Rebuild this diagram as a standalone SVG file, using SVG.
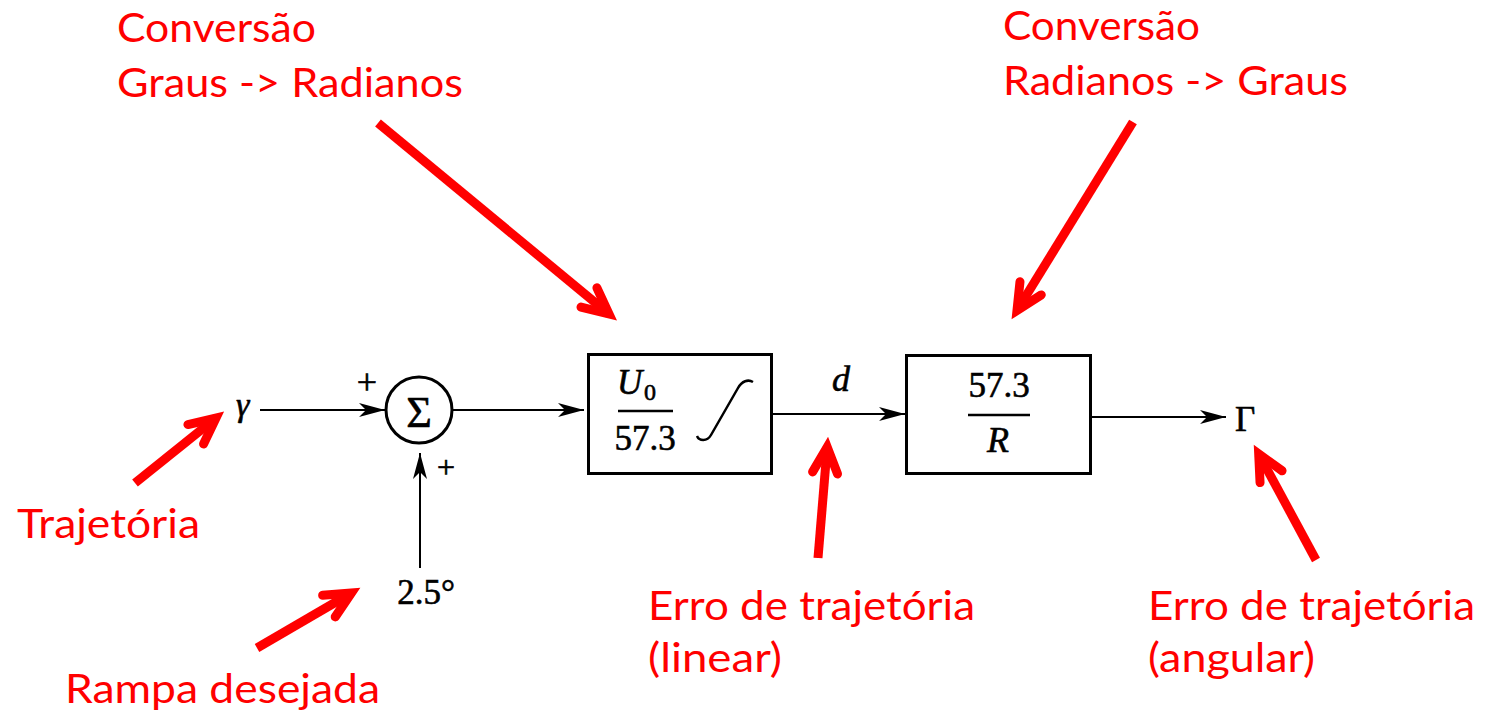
<svg xmlns="http://www.w3.org/2000/svg" width="1488" height="717" viewBox="0 0 1488 717">
<style>
.lbl{font-family:Lato,"Open Sans","Liberation Sans",sans-serif;font-size:41px;fill:#ff0000}
.ser{font-family:'Liberation Serif',serif;fill:#000;stroke:#000;stroke-width:0.6}
.it{font-style:italic}
.blk{fill:none;stroke:#000;stroke-width:3}
.wire{fill:none;stroke:#000;stroke-width:2;marker-end:url(#ah)}
.red{fill:none;stroke:#ff0000;stroke-width:9;marker-end:url(#rh)}
</style>
<defs>
<marker id="ah" markerUnits="userSpaceOnUse" orient="auto" refX="0" refY="0" markerWidth="40" markerHeight="30" viewBox="-30 -15 40 30" overflow="visible">
<path d="M0,0 L-26,-7 L-19,0 L-26,7 Z" fill="#000"/>
</marker>
<marker id="rh" markerUnits="userSpaceOnUse" orient="auto" refX="0" refY="0" markerWidth="60" markerHeight="60" viewBox="-40 -30 60 60" overflow="visible">
<path d="M-26,-12.5 L0,0 L-26,12.5" fill="none" stroke="#ff0000" stroke-width="9" stroke-linecap="round" stroke-linejoin="miter" stroke-miterlimit="10"/>
</marker>
</defs>
<rect width="1488" height="717" fill="#fff"/>

<g id="connectors">
<line class="wire" x1="260" y1="410" x2="385" y2="410"/>
<line class="wire" x1="452" y1="410" x2="584" y2="410"/>
<line class="wire" x1="773" y1="414" x2="905" y2="414"/>
<line class="wire" x1="1092" y1="417" x2="1226" y2="417"/>
<line class="wire" x1="420" y1="568" x2="420" y2="453"/>
</g>

<g id="input-gamma"><text class="ser it" x="236" y="416" font-size="34">γ</text></g>
<g id="input-ramp"><text class="ser" x="426" y="604" font-size="35" text-anchor="middle">2.5°</text></g>

<g id="sum">
<circle cx="419" cy="410" r="33" fill="none" stroke="#000" stroke-width="3"/>
<text class="ser" x="419" y="427" font-size="44" text-anchor="middle">Σ</text>
<text class="ser" x="367" y="394" font-size="36" text-anchor="middle">+</text>
<text class="ser" x="446" y="478" font-size="32" text-anchor="middle">+</text>
</g>

<g id="block1">
<rect class="blk" x="588.5" y="354.5" width="183" height="119"/>
<text class="ser it" x="617" y="394" font-size="35">U</text>
<text class="ser" x="644" y="400" font-size="24">0</text>
<line x1="618" y1="411" x2="673" y2="411" stroke="#000" stroke-width="2.5"/>
<text class="ser" x="645" y="450" font-size="35" text-anchor="middle">57.3</text>
<path d="M697,436 C699,441 707,442 711,435 L738,388 C742,381 748,379 753,382" fill="none" stroke="#000" stroke-width="2.5"/>
</g>

<g id="signal-d"><text class="ser it" x="841" y="391" font-size="36" text-anchor="middle">d</text></g>

<g id="block2">
<rect class="blk" x="906.5" y="355.5" width="184" height="118"/>
<text class="ser" x="999" y="397" font-size="35" text-anchor="middle">57.3</text>
<line x1="968" y1="415" x2="1030" y2="415" stroke="#000" stroke-width="2.5"/>
<text class="ser it" x="998" y="452" font-size="36" text-anchor="middle">R</text>
</g>

<g id="output-gamma"><text class="ser" x="1235" y="431" font-size="35">Γ</text></g>

<g id="annotations">
<line class="red" x1="378" y1="123" x2="609" y2="314"/>
<line class="red" x1="1133" y1="122" x2="1017" y2="310.5"/>
<line class="red" x1="135" y1="483" x2="216" y2="418"/>
<line class="red" x1="257" y1="648" x2="351.4" y2="593"/>
<line class="red" x1="818" y1="558" x2="827.2" y2="447"/>
<line class="red" x1="1316" y1="560" x2="1258.7" y2="453.8"/>
</g>

<g id="label-conv1">
<text class="lbl" x="117" y="42" textLength="199" lengthAdjust="spacingAndGlyphs">Conversão</text>
<text class="lbl" x="117" y="97" textLength="346" lengthAdjust="spacingAndGlyphs">Graus -&gt; Radianos</text>
</g>
<g id="label-conv2">
<text class="lbl" x="1003" y="40" textLength="197" lengthAdjust="spacingAndGlyphs">Conversão</text>
<text class="lbl" x="1003" y="95" textLength="345" lengthAdjust="spacingAndGlyphs">Radianos -&gt; Graus</text>
</g>
<g id="label-traj"><text class="lbl" x="17" y="538" textLength="183" lengthAdjust="spacingAndGlyphs">Trajetória</text></g>
<g id="label-rampa"><text class="lbl" x="65" y="703" textLength="315" lengthAdjust="spacingAndGlyphs">Rampa desejada</text></g>
<g id="label-erro-lin">
<text class="lbl" x="648" y="620" textLength="327" lengthAdjust="spacingAndGlyphs">Erro de trajetória</text>
<text class="lbl" x="648" y="672" textLength="134" lengthAdjust="spacingAndGlyphs">(linear)</text>
</g>
<g id="label-erro-ang">
<text class="lbl" x="1148" y="620" textLength="327" lengthAdjust="spacingAndGlyphs">Erro de trajetória</text>
<text class="lbl" x="1148" y="672" textLength="167" lengthAdjust="spacingAndGlyphs">(angular)</text>
</g>
</svg>
